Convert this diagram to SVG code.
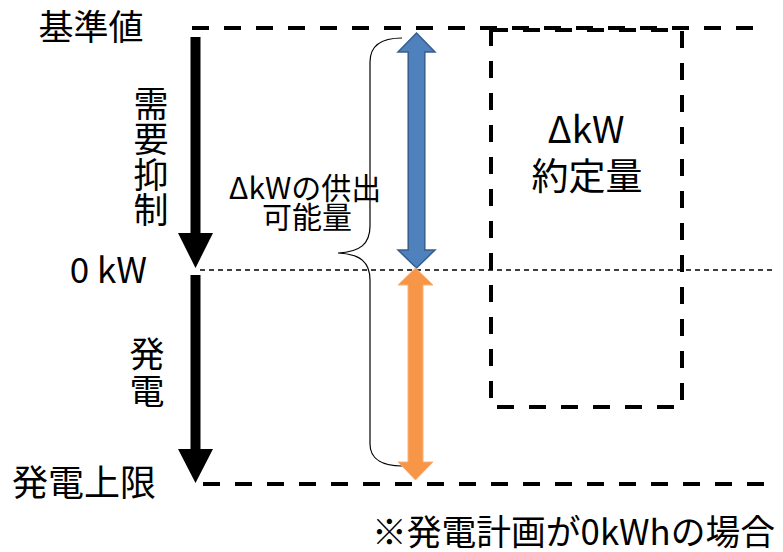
<svg xmlns="http://www.w3.org/2000/svg" width="783" height="552" viewBox="0 0 783 552">
<style>
text{font-family:"Noto Sans CJK JP","Noto Sans",sans-serif;fill:#000}
.big{font-size:35px}
.mid{font-size:30px}
.vert{writing-mode:vertical-rl;font-size:35px}
.thick{stroke:#000;stroke-width:4;stroke-dasharray:17 15;fill:none}
.thin{stroke:#000;stroke-width:1.3;stroke-dasharray:5 4;fill:none}
</style>
<rect width="783" height="552" fill="#fff"/>
<g id="connectors">
<line class="thick" x1="192" y1="28" x2="765" y2="28"/>
<line class="thin" x1="200" y1="270" x2="772" y2="270"/>
<line class="thick" x1="203" y1="484" x2="777" y2="484"/>
<polygon points="190.5,37 200.5,37 200.5,233 213,233 195.5,268 178,233 190.5,233" fill="#000"/>
<polygon points="190.5,275 200.5,275 200.5,449 213,449 195.5,483 178,449 190.5,449" fill="#000"/>
<path d="M402,38 C384,38 370,44 370,62 L370,226 C370,244 360,252 338,253 C360,254 370,262 370,280 L370,444 C370,460 384,466 402,466" fill="none" stroke="#000" stroke-width="1.2"/>
</g>
<g id="box">
<rect class="thick" x="491" y="30" width="191" height="377"/>
<text text-anchor="middle" font-size="37"><tspan x="586" y="143">ΔkW</tspan><tspan x="587" y="190">約定量</tspan></text>
</g>
<g id="blue-arrow">
<polygon points="416.5,33 435,52 424.8,52 424.8,250 435,250 416.5,268 398,250 408.2,250 408.2,52 398,52" fill="#4F81BD" stroke="#385D8A" stroke-width="1.5"/>
</g>
<g id="orange-arrow">
<polygon points="415.5,268 433,285 423,285 423,462 433,462 415.5,480 398,462 408,462 408,285 398,285" fill="#F79646" stroke="#FAB07A" stroke-width="1"/>
</g>
<g id="label-base"><text class="big" x="91" y="40" text-anchor="middle">基準値</text></g>
<g id="label-dr"><text class="vert" x="151" y="86" letter-spacing="0.5">需要抑制</text></g>
<g id="label-zero"><text class="big" x="147" y="283" text-anchor="end">0 kW</text></g>
<g id="label-gen"><text class="vert" x="147" y="336" letter-spacing="2">発電</text></g>
<g id="label-max"><text x="84" y="496" text-anchor="middle" font-size="36">発電上限</text></g>
<g id="label-supply">
<text class="mid" text-anchor="middle"><tspan x="305" y="199">ΔkWの供出</tspan><tspan x="307" y="228">可能量</tspan></text>
</g>
<g id="note"><text x="372" y="545" font-size="35" textLength="403" lengthAdjust="spacingAndGlyphs">※発電計画が0kWhの場合</text></g>
</svg>
